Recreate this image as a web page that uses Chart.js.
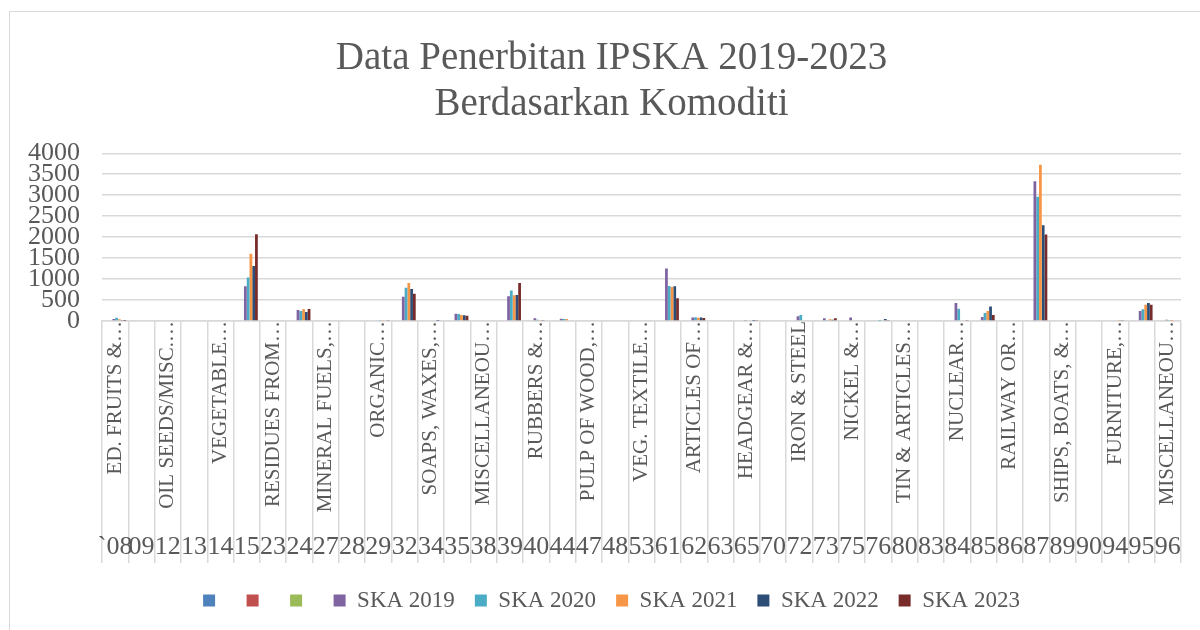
<!DOCTYPE html>
<html><head><meta charset="utf-8">
<script src="https://cdn.jsdelivr.net/npm/chart.js@4.4.1/dist/chart.umd.min.js"></script>
<style>
html,body{margin:0;padding:0;background:#fff;overflow:hidden;}
#wrap{position:relative;width:1200px;height:630px;overflow:hidden;}
#frame{position:absolute;left:9px;top:11px;width:1300px;height:700px;border:1.5px solid #d9d9d9;box-sizing:border-box;}
canvas{position:absolute;left:0;top:0;}
</style></head><body>
<div id="wrap"><div id="frame"></div><canvas id="c" width="1200" height="630"></canvas></div>
<script>
const titleLines = ['Data Penerbitan IPSKA 2019-2023', 'Berdasarkan Komoditi'];
const codes = ['`08','09','12','13','14','15','23','24','27','28','29','32','34','35','38','39','40','44','47','48','53','61','62','63','65','70','72','73','75','76','80','83','84','85','86','87','89','90','94','95','96'];
const names = ['ED. FRUITS &…','','OIL SEEDS/MISC.…','','VEGETABLE…','','RESIDUES FROM…','','MINERAL FUELS,…','','ORGANIC…','','SOAPS, WAXES,…','','MISCELLANEOU…','','RUBBERS &…','','PULP OF WOOD,…','','VEG. TEXTILE…','','ARTICLES OF…','','HEADGEAR &…','','IRON & STEEL','','NICKEL &…','','TIN & ARTICLES…','','NUCLEAR…','','RAILWAY OR…','','SHIPS, BOATS, &…','','FURNITURE,…','','MISCELLANEOU…'];
const seriesLabels = ['', '', '', 'SKA 2019', 'SKA 2020', 'SKA 2021', 'SKA 2022', 'SKA 2023'];
const seriesColors = ['#4F81BD', '#C0504D', '#9BBB59', '#8064A2', '#4BACC6', '#F79646', '#2C4D75', '#772C2A'];
const emptySeries = [];
const ska2019 = [45,0,0,0,0,830,0,260,0,0,20,576,0,175,0,590,65,55,0,0,0,1251,85,0,10,0,115,64,85,0,0,0,430,96,0,3334,0,0,0,239,30];
const ska2020 = [80,0,0,0,0,1035,0,238,0,0,25,790,0,165,0,725,30,45,0,0,0,837,90,0,15,0,145,24,0,5,0,0,290,191,0,2963,0,0,0,279,25];
const ska2021 = [40,0,0,0,0,1605,0,283,0,0,25,905,0,145,0,614,10,45,0,0,0,813,75,0,15,0,0,40,0,20,0,0,0,239,0,3724,0,0,10,390,5];
const ska2022 = [10,0,0,0,0,1310,0,214,0,0,20,766,5,135,0,622,10,0,0,0,0,829,85,0,5,0,0,32,0,45,0,0,0,343,0,2281,0,0,25,430,0];
const ska2023 = [5,0,0,0,0,2070,0,286,0,0,10,648,15,128,0,909,15,0,0,0,0,542,70,0,10,0,0,64,0,25,0,0,10,143,0,2060,0,0,20,390,0];
const yTicks = [0,500,1000,1500,2000,2500,3000,3500,4000];

const seriesData = [emptySeries, emptySeries, emptySeries, ska2019, ska2020, ska2021, ska2022, ska2023];
const TXT = '#595959', GRID = '#d9d9d9', FONT = "'Liberation Serif', 'Times New Roman', serif";

// let the value-axis labels use the room left of the layout padding (no clipping)
const yLabelRoom = { id: 'yLabelRoom', afterLayout(chart) { chart.scales.y.left = 0; } };

new Chart(document.getElementById('c'), {
  type: 'bar',
  data: {
    labels: names,
    datasets: seriesData.map((d, i) => ({
      label: seriesLabels[i], data: d, backgroundColor: seriesColors[i], borderWidth: 0,
      categoryPercentage: 0.84, barPercentage: 1.0
    }))
  },
  plugins: [yLabelRoom],
  options: {
    responsive: false, animation: false,
    layout: { padding: { left: 42, right: 19, top: 0, bottom: 8 } },
    plugins: {
      title: { display: true, text: titleLines, color: TXT, font: { family: FONT, size: 39, weight: 'normal', lineHeight: 1.17 }, padding: { top: 36, bottom: 26 } },
      legend: { position: 'bottom', labels: { color: TXT, font: { family: FONT, size: 23 }, boxWidth: 12, boxHeight: 12, padding: 20 } },
      tooltip: { enabled: false }
    },
    scales: {
      y: {
        min: 0, max: 4000,
        afterBuildTicks: s => { s.ticks = yTicks.map(v => ({ value: v })); },
        grid: { color: GRID, lineWidth: 1.5, drawTicks: false },
        border: { display: false },
        ticks: { autoSkip: false, color: TXT, font: { family: FONT, size: 26 }, padding: 22, callback: v => String(v) },
        afterFit: s => { s.width = 60; }
      },
      x: {
        type: 'category', labels: names, position: 'bottom', weight: 0, offset: true,
        grid: { display: true, drawOnChartArea: false, drawTicks: true, tickLength: 242, color: GRID, lineWidth: 1.5, offset: true },
        border: { display: true, color: GRID, width: 1.5 },
        ticks: { autoSkip: false, minRotation: 90, maxRotation: 90, padding: -242, color: TXT, font: { family: FONT, size: 21 } },
        afterFit: s => { s.height = 200; }
      },
      x2: {
        type: 'category', labels: codes, position: 'bottom', weight: 1, offset: true,
        grid: { display: false },
        border: { display: false },
        ticks: { autoSkip: false, minRotation: 0, maxRotation: 0, padding: 3, color: TXT, font: { family: FONT, size: 26 } },
        afterFit: s => { s.height = 48; }
      }
    }
  }
});
</script>
</body></html>
